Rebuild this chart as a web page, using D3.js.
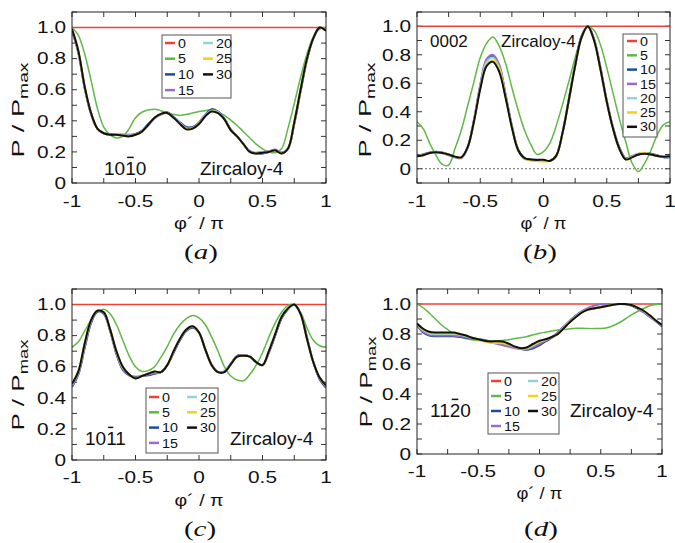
<!DOCTYPE html>
<html><head><meta charset="utf-8">
<script src="https://cdn.jsdelivr.net/npm/d3@7"></script>
<style>body{margin:0;background:#fff} svg{display:block}</style>
</head><body>
<svg id="chart" width="675" height="543"></svg>
<script>
// ---------------- DATA ----------------
const phi = [-1.00,-0.95,-0.90,-0.85,-0.80,-0.75,-0.70,-0.65,-0.60,-0.55,-0.50,-0.45,-0.40,-0.35,-0.30,-0.25,-0.20,-0.15,-0.10,-0.05,
  0.00,0.05,0.10,0.15,0.20,0.25,0.30,0.35,0.40,0.45,0.50,0.55,0.60,0.65,0.70,0.75,0.80,0.85,0.90,0.95,1.00];
const phiEnds = [-1, 1];
const seriesNames = ["0","5","10","15","20","25","30"];
const ref0 = [1.0, 1.0];
const xTickLabels = ["-1","-0.5","0","0.5","1"];
const xTickValues = [-1,-0.5,0,0.5,1];
const yTickLabels = ["0","0.2","0.4","0.6","0.8","1.0"];
const yTickValues = [0,0.2,0.4,0.6,0.8,1.0];
const millerLabels = ["1010","0002","1011","1120"];
const materialLabel = "Zircaloy-4";
const panelLetters = ["a","b","c","d"];

// Panel (a) 10-10
const a5  = [1.00,0.95,0.83,0.66,0.48,0.36,0.31,0.29,0.30,0.35,0.42,0.455,0.47,0.475,0.465,0.45,0.44,0.435,0.44,0.45,
  0.46,0.465,0.47,0.455,0.435,0.405,0.37,0.33,0.29,0.25,0.22,0.20,0.195,0.22,0.35,0.51,0.68,0.83,0.94,0.99,1.00];
const a10 = [0.98,0.84,0.61,0.45,0.35,0.32,0.315,0.31,0.31,0.305,0.315,0.335,0.38,0.42,0.445,0.455,0.425,0.39,0.36,0.36,
  0.39,0.44,0.475,0.46,0.415,0.345,0.30,0.25,0.205,0.19,0.19,0.20,0.21,0.195,0.22,0.38,0.59,0.79,0.93,1.00,0.98];
const a15 = [0.98,0.84,0.61,0.44,0.35,0.32,0.31,0.31,0.31,0.31,0.315,0.33,0.37,0.415,0.44,0.45,0.42,0.385,0.355,0.355,
  0.385,0.435,0.465,0.455,0.41,0.34,0.30,0.25,0.20,0.195,0.20,0.205,0.215,0.195,0.22,0.385,0.60,0.80,0.93,1.00,0.98];
const a20 = [0.99,0.85,0.62,0.45,0.35,0.32,0.31,0.31,0.305,0.305,0.31,0.33,0.375,0.42,0.445,0.45,0.42,0.385,0.35,0.352,
  0.385,0.435,0.465,0.455,0.41,0.34,0.30,0.25,0.20,0.19,0.195,0.20,0.21,0.19,0.22,0.39,0.60,0.80,0.93,1.00,0.98];
const a25 = [0.99,0.85,0.62,0.45,0.35,0.32,0.31,0.31,0.305,0.30,0.31,0.33,0.375,0.42,0.445,0.45,0.42,0.38,0.348,0.35,
  0.382,0.432,0.462,0.452,0.41,0.34,0.30,0.25,0.20,0.19,0.195,0.20,0.21,0.19,0.22,0.39,0.60,0.80,0.93,1.00,0.98];
const a30 = [0.99,0.85,0.62,0.45,0.35,0.32,0.31,0.31,0.305,0.30,0.31,0.33,0.375,0.42,0.445,0.45,0.42,0.38,0.345,0.35,
  0.38,0.43,0.46,0.45,0.41,0.34,0.30,0.25,0.20,0.19,0.195,0.20,0.21,0.19,0.22,0.39,0.60,0.80,0.93,1.00,0.98];

// Panel (b) 0002
const b5  = [0.33,0.28,0.18,0.095,0.03,0.025,0.14,0.27,0.44,0.61,0.78,0.88,0.925,0.86,0.74,0.57,0.41,0.27,0.17,0.10,
  0.12,0.18,0.30,0.45,0.61,0.78,0.92,0.995,0.97,0.87,0.71,0.53,0.35,0.19,0.04,-0.02,0.04,0.13,0.24,0.31,0.33];
const b10 = [0.09,0.10,0.115,0.12,0.115,0.10,0.085,0.08,0.15,0.34,0.58,0.76,0.79,0.72,0.52,0.30,0.135,0.075,0.065,0.063,
  0.06,0.055,0.09,0.25,0.49,0.73,0.93,1.00,0.91,0.71,0.48,0.29,0.15,0.075,0.085,0.10,0.11,0.105,0.095,0.08,0.08];
const b15 = [0.09,0.10,0.11,0.115,0.11,0.095,0.08,0.075,0.145,0.34,0.59,0.77,0.80,0.73,0.52,0.30,0.13,0.07,0.06,0.058,
  0.06,0.055,0.09,0.25,0.48,0.72,0.92,1.00,0.90,0.70,0.47,0.28,0.14,0.07,0.09,0.105,0.11,0.10,0.09,0.085,0.085];
const b20 = [0.088,0.097,0.11,0.115,0.11,0.10,0.085,0.08,0.15,0.335,0.57,0.75,0.78,0.71,0.51,0.295,0.13,0.072,0.062,0.06,
  0.06,0.055,0.09,0.25,0.48,0.72,0.92,1.00,0.905,0.705,0.475,0.285,0.145,0.07,0.085,0.105,0.11,0.10,0.09,0.085,0.085];
const b25 = [0.087,0.095,0.11,0.115,0.11,0.10,0.085,0.08,0.15,0.33,0.565,0.73,0.76,0.70,0.505,0.29,0.13,0.07,0.06,0.055,
  0.05,0.055,0.09,0.25,0.48,0.72,0.92,1.00,0.90,0.70,0.47,0.28,0.14,0.065,0.08,0.105,0.11,0.10,0.09,0.085,0.087];
const b30 = [0.087,0.095,0.11,0.115,0.11,0.10,0.085,0.08,0.15,0.33,0.56,0.72,0.75,0.68,0.50,0.29,0.13,0.075,0.065,0.062,
  0.063,0.055,0.09,0.25,0.48,0.72,0.92,1.00,0.90,0.70,0.47,0.28,0.14,0.065,0.08,0.10,0.105,0.10,0.09,0.085,0.087];

// Panel (c) 10-11
const c5  = [0.725,0.76,0.83,0.90,0.95,0.97,0.94,0.87,0.77,0.67,0.60,0.57,0.575,0.60,0.66,0.73,0.81,0.87,0.91,0.93,
  0.915,0.87,0.79,0.70,0.60,0.54,0.515,0.51,0.55,0.61,0.69,0.79,0.88,0.95,0.995,0.995,0.95,0.85,0.77,0.735,0.725];
const c10 = [0.47,0.55,0.72,0.88,0.955,0.94,0.83,0.68,0.58,0.545,0.535,0.54,0.545,0.555,0.565,0.61,0.69,0.77,0.83,0.85,
  0.82,0.71,0.61,0.565,0.57,0.62,0.67,0.675,0.665,0.63,0.61,0.69,0.80,0.91,0.97,1.00,0.94,0.79,0.63,0.52,0.465];
const c15 = [0.475,0.555,0.73,0.89,0.96,0.945,0.835,0.685,0.585,0.545,0.53,0.54,0.55,0.56,0.565,0.61,0.695,0.775,0.835,0.855,
  0.82,0.71,0.615,0.565,0.565,0.615,0.67,0.675,0.665,0.63,0.61,0.695,0.805,0.915,0.97,1.00,0.94,0.785,0.63,0.525,0.47];
const c20 = [0.485,0.565,0.745,0.895,0.96,0.95,0.84,0.695,0.595,0.55,0.527,0.54,0.555,0.568,0.565,0.61,0.70,0.78,0.84,0.858,
  0.82,0.71,0.61,0.565,0.565,0.615,0.665,0.672,0.665,0.63,0.61,0.70,0.81,0.92,0.975,1.00,0.94,0.78,0.63,0.53,0.478];
const c25 = [0.49,0.57,0.75,0.90,0.96,0.95,0.84,0.70,0.60,0.55,0.525,0.54,0.555,0.57,0.565,0.61,0.70,0.78,0.84,0.86,
  0.82,0.71,0.61,0.565,0.565,0.615,0.665,0.67,0.665,0.63,0.61,0.70,0.81,0.92,0.975,1.00,0.94,0.78,0.63,0.53,0.48];
const c30 = [0.49,0.57,0.75,0.90,0.96,0.95,0.84,0.70,0.60,0.55,0.525,0.54,0.555,0.57,0.565,0.61,0.70,0.78,0.84,0.86,
  0.82,0.71,0.61,0.565,0.565,0.615,0.665,0.67,0.665,0.63,0.61,0.70,0.81,0.92,0.975,1.00,0.94,0.78,0.63,0.53,0.48];

// Panel (d) 11-20
const d5  = [1.00,0.975,0.94,0.90,0.86,0.83,0.80,0.78,0.77,0.762,0.757,0.755,0.753,0.753,0.757,0.762,0.77,0.776,0.783,0.795,
  0.805,0.812,0.82,0.826,0.83,0.835,0.838,0.838,0.836,0.836,0.837,0.842,0.855,0.875,0.90,0.927,0.95,0.97,0.988,0.997,1.00];
const d10 = [0.86,0.81,0.79,0.785,0.785,0.785,0.785,0.78,0.775,0.77,0.765,0.76,0.75,0.74,0.73,0.72,0.71,0.70,0.695,0.705,
  0.725,0.75,0.775,0.81,0.85,0.89,0.925,0.95,0.963,0.97,0.98,0.99,0.998,1.00,0.998,0.99,0.97,0.945,0.915,0.885,0.85];
const d15 = [0.86,0.815,0.795,0.79,0.79,0.79,0.79,0.785,0.78,0.772,0.765,0.755,0.745,0.735,0.725,0.715,0.705,0.70,0.70,0.712,
  0.735,0.755,0.78,0.81,0.85,0.89,0.925,0.955,0.975,0.99,0.998,1.00,1.00,1.00,1.00,0.99,0.97,0.945,0.915,0.885,0.85];
const d20 = [0.865,0.825,0.805,0.80,0.80,0.80,0.80,0.795,0.785,0.775,0.765,0.755,0.748,0.745,0.74,0.728,0.712,0.703,0.705,0.725,
  0.748,0.762,0.78,0.80,0.845,0.885,0.92,0.948,0.965,0.973,0.98,0.988,0.996,1.00,1.00,0.993,0.975,0.952,0.922,0.888,0.858];
const d25 = [0.868,0.83,0.81,0.805,0.805,0.805,0.805,0.80,0.79,0.775,0.762,0.75,0.742,0.74,0.738,0.73,0.714,0.704,0.708,0.73,
  0.75,0.763,0.778,0.798,0.842,0.882,0.915,0.945,0.964,0.972,0.979,0.987,0.995,1.00,1.00,0.993,0.975,0.955,0.925,0.89,0.86];
const d30 = [0.87,0.835,0.815,0.81,0.81,0.81,0.81,0.80,0.79,0.775,0.765,0.755,0.75,0.752,0.75,0.735,0.716,0.705,0.712,0.735,
  0.755,0.765,0.78,0.80,0.84,0.88,0.915,0.945,0.964,0.972,0.978,0.987,0.995,1.00,1.00,0.993,0.975,0.955,0.925,0.89,0.86];

// ---------------- STYLE / LAYOUT ----------------
const colors = {"0":"#ef4136","5":"#5fb947","10":"#1e4c9c","15":"#9b6cc1","20":"#8fd4d8","25":"#f3cf1e","30":"#111111"};
const widths = {"0":1.5,"5":1.5,"10":2,"15":2,"20":2,"25":2,"30":2};

const panels = [
  {L:72, R:326, T:12, B:183, yDom:[0,1.1], data:[a5,a10,a15,a20,a25,a30], bar:2,
   ytitle:{x:24,y:110,len:95}, xtitleLen:50, xlabBase:207, xtitleBase:229, capBase:259, capX:201,
   miller:{x:104,y:175,fs:19}, mat:{x:200,y:175,fs:19},
   legend:{x:162,y:35,w:69,h:63,cols:[[0,1,2,3],[4,5,6]],colX:[165,203],row0:43,dy:15.7}},
  {L:417, R:670, T:12, B:183, yDom:[-0.1,1.1], data:[b5,b10,b15,b20,b25,b30], bar:-1, dashed:true,
   ytitle:{x:371,y:110,len:95}, xtitleLen:46, xlabBase:207, xtitleBase:229, capBase:259, capX:540,
   miller:{x:430,y:47,fs:17}, mat:{x:501,y:47,fs:17},
   legend:{x:623,y:34,w:34,h:103,cols:[[0,1,2,3,4,5,6]],colX:[627],row0:41,dy:14.3}},
  {L:72, R:326, T:289, B:460, yDom:[0,1.1], data:[c5,c10,c15,c20,c25,c30], bar:2,
   ytitle:{x:24,y:385,len:91}, xtitleLen:49, xlabBase:483, xtitleBase:506, capBase:536, capX:200,
   miller:{x:85,y:445,fs:19}, mat:{x:230,y:445,fs:19},
   legend:{x:146,y:388,w:72,h:65,cols:[[0,1,2,3],[4,5,6]],colX:[149,187],row0:397,dy:15.3}},
  {L:417, R:662, T:289, B:454, yDom:[0,1.1], data:[d5,d10,d15,d20,d25,d30], bar:2,
   ytitle:{x:372,y:382,len:91}, xtitleLen:46, xlabBase:477, xtitleBase:499, capBase:536, capX:541,
   miller:{x:430,y:417,fs:19}, mat:{x:570,y:417,fs:19},
   legend:{x:488,y:373,w:71,h:61,cols:[[0,1,2,3],[4,5,6]],colX:[491,528],row0:381,dy:15}}
];

const svg = d3.select("#chart");
svg.append("rect").attr("width",675).attr("height",543).attr("fill","#fff");
const SANS = "'Liberation Sans', Arial, Helvetica, sans-serif";
const SERIF = "'Liberation Serif','Times New Roman',serif";
const TICK_FS = 16, TICK_SX = 1.3;

function wideText(parent, x, y, sx, anchor, fs, str) {
  const gg = parent.append("g").attr("transform",`translate(${x},${y}) scale(${sx},1)`);
  return gg.append("text").attr("text-anchor",anchor).attr("font-family",SANS)
    .attr("font-size",fs).attr("fill","#111").text(str);
}

panels.forEach((p, i) => {
  const g = svg.append("g");
  const x = d3.scaleLinear().domain([-1,1]).range([p.L,p.R]);
  const y = d3.scaleLinear().domain(p.yDom).range([p.B,p.T]);
  const clipId = "clip"+i;
  g.append("clipPath").attr("id",clipId).append("rect")
    .attr("x",p.L).attr("y",p.T).attr("width",p.R-p.L).attr("height",p.B-p.T);

  const tickLen = 5;
  const yt = d3.range(Math.round(p.yDom[0]*10), Math.round(p.yDom[1]*10)+1).map(v=>v/10);
  const xt = d3.range(-4,5).map(v=>v/4);
  const tk = g.append("g").attr("stroke","#333").attr("stroke-width",1);
  yt.forEach(v=>{
    tk.append("line").attr("x1",p.L).attr("x2",p.L+tickLen).attr("y1",y(v)).attr("y2",y(v));
    tk.append("line").attr("x1",p.R).attr("x2",p.R-tickLen).attr("y1",y(v)).attr("y2",y(v));
  });
  xt.forEach(v=>{
    tk.append("line").attr("x1",x(v)).attr("x2",x(v)).attr("y1",p.B).attr("y2",p.B-tickLen);
    tk.append("line").attr("x1",x(v)).attr("x2",x(v)).attr("y1",p.T).attr("y2",p.T+tickLen);
  });

  if (p.dashed) {
    g.append("line").attr("x1",p.L).attr("x2",p.R).attr("y1",y(0)).attr("y2",y(0))
      .attr("stroke","#444").attr("stroke-width",0.8).attr("stroke-dasharray","2,2");
  }

  const line = d3.line().x(d=>x(d[0])).y(d=>y(d[1])).curve(d3.curveCatmullRom.alpha(0.5));
  const curves = g.append("g").attr("clip-path",`url(#${clipId})`);
  curves.append("path").datum(phiEnds.map((v,k)=>[v,ref0[k]])).attr("d",d3.line().x(d=>x(d[0])).y(d=>y(d[1])))
    .attr("fill","none").attr("stroke",colors["0"]).attr("stroke-width",widths["0"]);
  p.data.forEach((arr, k) => {
    const name = seriesNames[k+1];
    curves.append("path").datum(phi.map((v,j)=>[v,arr[j]])).attr("d",line)
      .attr("fill","none").attr("stroke",colors[name]).attr("stroke-width",widths[name])
      .attr("stroke-linejoin","round");
  });

  g.append("rect").attr("x",p.L).attr("y",p.T).attr("width",p.R-p.L).attr("height",p.B-p.T)
    .attr("fill","none").attr("stroke","#222").attr("stroke-width",1);

  // tick labels
  yTickValues.forEach((v,k)=>{
    wideText(g, p.L-6, y(v), TICK_SX, "end", TICK_FS, yTickLabels[k]).attr("dy","0.36em");
  });
  xTickValues.forEach((v,k)=>{
    wideText(g, x(v), p.xlabBase, TICK_SX, "middle", TICK_FS, xTickLabels[k]);
  });

  // x title
  const xtG = g.append("g");
  const xtT = xtG.append("text").attr("text-anchor","middle").attr("font-family",SANS)
    .attr("font-size",17).attr("fill","#111").text("\u03C6\u00B4 / \u03C0");
  const xl = xtT.node().getComputedTextLength();
  xtG.attr("transform",`translate(${(p.L+p.R)/2},${p.xtitleBase}) scale(${p.xtitleLen/xl},1)`);

  // y title
  const ytG = g.append("g");
  const ytT = ytG.append("text").attr("text-anchor","middle").attr("font-family",SANS)
    .attr("font-size",17).attr("fill","#111");
  ytT.append("tspan").text("P / P");
  ytT.append("tspan").attr("font-size",12).attr("dy",4).text("max");
  const yl = ytT.node().getComputedTextLength();
  ytG.attr("transform",`translate(${p.ytitle.x},${p.ytitle.y}) rotate(-90) scale(${p.ytitle.len/yl},1)`);

  // caption
  const cg = g.append("g").attr("transform",`translate(${p.capX},${p.capBase}) scale(1.45,1)`);
  cg.append("text").attr("text-anchor","middle")
    .attr("font-family",SERIF).attr("font-size",20).attr("fill","#111")
    .html(`(<tspan font-style="italic">${panelLetters[i]}</tspan>)`);

  // labels
  const mt = g.append("text").attr("x",p.miller.x).attr("y",p.miller.y).attr("font-family",SANS)
    .attr("font-size",p.miller.fs).attr("fill","#111").text(millerLabels[i]);
  if (p.bar >= 0) {
    const n = mt.node();
    const s = n.getStartPositionOfChar(p.bar), e = n.getEndPositionOfChar(p.bar);
    const yb = p.miller.y - p.miller.fs*0.716 - 4;
    g.append("line").attr("x1",s.x+2).attr("x2",e.x-2).attr("y1",yb).attr("y2",yb)
      .attr("stroke","#111").attr("stroke-width",1.5);
  }
  g.append("text").attr("x",p.mat.x).attr("y",p.mat.y).attr("font-family",SANS)
    .attr("font-size",p.mat.fs).attr("fill","#111").text(materialLabel);

  // legend
  const lg = p.legend;
  g.append("rect").attr("x",lg.x).attr("y",lg.y).attr("width",lg.w).attr("height",lg.h)
    .attr("fill","#fff").attr("stroke","#555").attr("stroke-width",1);
  lg.cols.forEach((col,ci)=>{
    col.forEach((si,ri)=>{
      const name = seriesNames[si];
      const yy = lg.row0 + ri*lg.dy;
      const x0 = lg.colX[ci];
      g.append("line").attr("x1",x0).attr("x2",x0+10).attr("y1",yy).attr("y2",yy)
        .attr("stroke",colors[name]).attr("stroke-width",2.5);
      wideText(g, x0+13, yy, 1.1, "start", 13, name).attr("dy","0.36em");
    });
  });
});
</script>
</body></html>
